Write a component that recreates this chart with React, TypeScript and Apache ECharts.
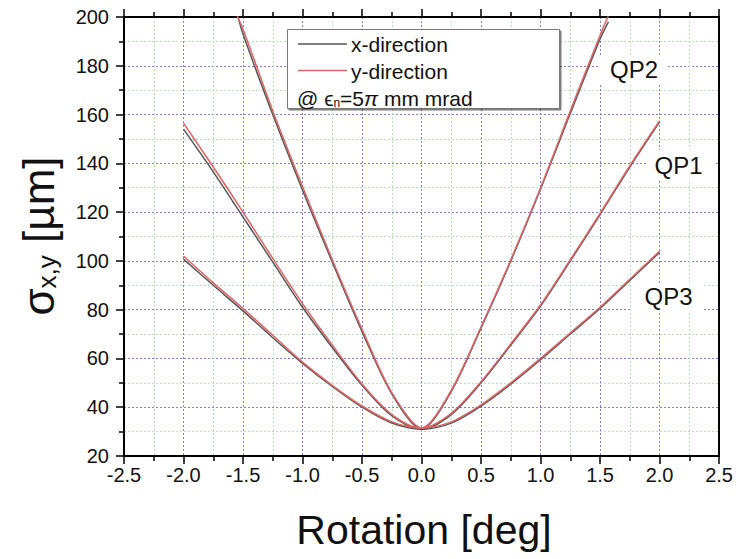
import React, { useEffect, useRef } from "react";
import * as echarts from "echarts";

// Rotation angle samples [deg]
const angles = [-2, -1.75, -1.5, -1.25, -1, -0.75, -0.5, -0.25, 0, 0.25, 0.5, 0.75, 1, 1.25, 1.5, 1.75, 2];
const qp2Angles = [-1.55, -1.5, -1.25, -1, -0.75, -0.5, -0.25, 0, 0.25, 0.5, 0.75, 1, 1.25, 1.5, 1.57];

// Beam size sigma [um]
const qp1X = [154, 136.5, 118, 99.5, 81, 64.5, 49, 36.5, 31, 37, 50, 65.5, 81.5, 100, 119, 138.5, 157];
const qp1Y = [156.5, 138.5, 120, 101, 82.5, 65.5, 49.5, 37, 31.5, 37.5, 50.5, 66, 82, 100.5, 119.5, 139, 157.5];
const qp3X = [100.7, 90, 79.5, 68.5, 58, 48.5, 40, 33.5, 31, 33.5, 40.5, 49.5, 59.5, 70, 80.5, 92, 103.5];
const qp3Y = [102, 91, 80.5, 69.5, 58.5, 49, 40.5, 34, 31.5, 34, 41, 50, 60, 70.5, 81, 92.5, 104];
const qp2X = [201.5, 193, 160, 129, 99.5, 71, 45.5, 31, 46.5, 72.5, 100, 129.5, 160.5, 191, 198];
const qp2Y = [200.5, 195, 161.5, 130.5, 100.5, 72, 46, 31.5, 47, 73, 100.5, 130, 161.5, 192.5, 200.5];

const xMin = -2.5;
const xMax = 2.5;
const xStep = 0.5;
const yMin = 20;
const yMax = 200;
const yStep = 20;

const legendNames = ["x-direction", "y-direction"];
const qpLabels = ["QP1", "QP2", "QP3"];

const FONT = "'Liberation Sans', Arial, Helvetica, sans-serif";
const GRAY = "#555555";
const RED = "#dc6464";

export default function App() {
  const ref = useRef<HTMLDivElement>(null);

  useEffect(() => {
    if (!ref.current) return;
    const chart = echarts.init(ref.current, null, { renderer: "svg" });

    const mk = (name: string, xs: number[], ys: number[], color: string, z: number) => ({
      type: "line",
      name,
      xAxisIndex: 0,
      yAxisIndex: 0,
      data: xs.map((x, i) => [x, ys[i]]),
      showSymbol: false,
      symbol: "none",
      smooth: 0.3,
      clip: true,
      z,
      lineStyle: { color, width: 1.5 },
      silent: true,
    });

    const axisLine = { show: true, onZero: false, lineStyle: { color: "#000", width: 2 } };
    const tick = { show: true, length: 8, lineStyle: { color: "#000", width: 1.5 } };
    const minorTick = { show: true, splitNumber: 2, length: 5, lineStyle: { color: "#000", width: 1.5 } };
    const splitLine = { show: true, lineStyle: { color: "#8080d0", type: [2, 2], width: 1 } };
    const minorSplitLine = { show: true, lineStyle: { color: "#b6e4b6", type: [2, 2], width: 1 } };

    chart.setOption({
      animation: false,
      backgroundColor: "#fff",
      grid: { left: 124, right: 16, top: 17, bottom: 103, containLabel: false },
      xAxis: [
        {
          type: "value",
          position: "bottom",
          min: xMin,
          max: xMax,
          interval: xStep,
          axisLine,
          axisTick: tick,
          minorTick,
          axisLabel: {
            formatter: (v: number) => v.toFixed(1),
            fontSize: 20,
            color: "#111",
            margin: 9,
            fontFamily: FONT,
          },
          splitLine,
          minorSplitLine,
        },
        {
          type: "value",
          position: "top",
          min: xMin,
          max: xMax,
          interval: xStep,
          axisLine,
          axisTick: tick,
          minorTick,
          axisLabel: { show: false },
          splitLine: { show: false },
        },
      ],
      yAxis: [
        {
          type: "value",
          position: "left",
          min: yMin,
          max: yMax,
          interval: yStep,
          axisLine,
          axisTick: tick,
          minorTick,
          axisLabel: { fontSize: 20, color: "#111", margin: 15, fontFamily: FONT },
          splitLine,
          minorSplitLine,
        },
        {
          type: "value",
          position: "right",
          min: yMin,
          max: yMax,
          interval: yStep,
          axisLine,
          axisTick: { show: false },
          axisLabel: { show: false },
          splitLine: { show: false },
        },
      ],
      series: [
        mk(legendNames[0] + " QP1", angles, qp1X, GRAY, 2),
        mk(legendNames[0] + " QP3", angles, qp3X, GRAY, 2),
        mk(legendNames[0] + " QP2", qp2Angles, qp2X, GRAY, 2),
        mk(legendNames[1] + " QP1", angles, qp1Y, RED, 3),
        mk(legendNames[1] + " QP3", angles, qp3Y, RED, 3),
        mk(legendNames[1] + " QP2", qp2Angles, qp2Y, RED, 3),
      ],
      graphic: [
        // legend box
        {
          type: "rect",
          z: 20,
          shape: { x: 287.5, y: 29.5, width: 272, height: 79 },
          style: { fill: "#fff", stroke: "#777", lineWidth: 1, shadowColor: "rgba(0,0,0,0.5)", shadowOffsetX: 1.5, shadowOffsetY: 1.5, shadowBlur: 1 },
        },
        { type: "line", z: 21, shape: { x1: 298, y1: 44, x2: 347, y2: 44 }, style: { stroke: GRAY, lineWidth: 1.5 } },
        { type: "line", z: 21, shape: { x1: 298, y1: 70.5, x2: 347, y2: 70.5 }, style: { stroke: RED, lineWidth: 1.5 } },
        {
          type: "text",
          z: 21,
          x: 351,
          y: 44,
          style: { text: legendNames[0], fontSize: 21, fontFamily: FONT, fill: "#111", verticalAlign: "middle", align: "left" },
        },
        {
          type: "text",
          z: 21,
          x: 351,
          y: 71,
          style: { text: legendNames[1], fontSize: 21, fontFamily: FONT, fill: "#111", verticalAlign: "middle", align: "left" },
        },
        {
          type: "text",
          z: 21,
          x: 297,
          y: 97,
          style: {
            text: "{a|@ ϵ}{b|n}{a|=5}{c|π}{a| mm mrad}",
            verticalAlign: "middle",
            align: "left",
            rich: {
              a: { fontSize: 21, fontFamily: FONT, fill: "#111", verticalAlign: "bottom", lineHeight: 24 },
              b: { fontSize: 12, fontFamily: FONT, fill: "#111", verticalAlign: "bottom", lineHeight: 18 },
              c: { fontSize: 21, fontFamily: FONT, fill: "#111", fontStyle: "italic", verticalAlign: "bottom", lineHeight: 24 },
            },
          },
        },
        // QP labels with white backgrounds
        { type: "rect", z: 5, shape: { x: 600, y: 55, width: 68, height: 29 }, style: { fill: "#fff" } },
        { type: "rect", z: 5, shape: { x: 647, y: 150, width: 68, height: 30 }, style: { fill: "#fff" } },
        { type: "rect", z: 5, shape: { x: 632, y: 283, width: 72, height: 30 }, style: { fill: "#fff" } },
        {
          type: "text",
          z: 6,
          x: 634,
          y: 69,
          style: { text: qpLabels[1], fontSize: 24, fontFamily: FONT, fill: "#111", align: "center", verticalAlign: "middle" },
        },
        {
          type: "text",
          z: 6,
          x: 678.5,
          y: 165.5,
          style: { text: qpLabels[0], fontSize: 24, fontFamily: FONT, fill: "#111", align: "center", verticalAlign: "middle" },
        },
        {
          type: "text",
          z: 6,
          x: 668.5,
          y: 296.5,
          style: { text: qpLabels[2], fontSize: 24, fontFamily: FONT, fill: "#111", align: "center", verticalAlign: "middle" },
        },
        // axis names
        {
          type: "text",
          z: 10,
          x: 424,
          y: 530,
          style: { text: "Rotation [deg]", fontSize: 41, fontFamily: FONT, fill: "#111", align: "center", verticalAlign: "middle" },
        },
        {
          type: "text",
          z: 10,
          x: 36,
          y: 236,
          rotation: Math.PI / 2,
          style: {
            text: "{a|σ}{b|x,y}{a| [µm]}",
            align: "center",
            verticalAlign: "middle",
            rich: {
              a: { fontSize: 44, fontFamily: FONT, fill: "#111", verticalAlign: "bottom", lineHeight: 48 },
              b: { fontSize: 26, fontFamily: FONT, fill: "#111", verticalAlign: "bottom", lineHeight: 40 },
            },
          },
        },
      ],
    });

    return () => chart.dispose();
  }, []);

  return (
    <div
      ref={ref}
      style={{ position: "fixed", left: 0, top: 0, width: 736, height: 559, background: "#fff" }}
    />
  );
}
